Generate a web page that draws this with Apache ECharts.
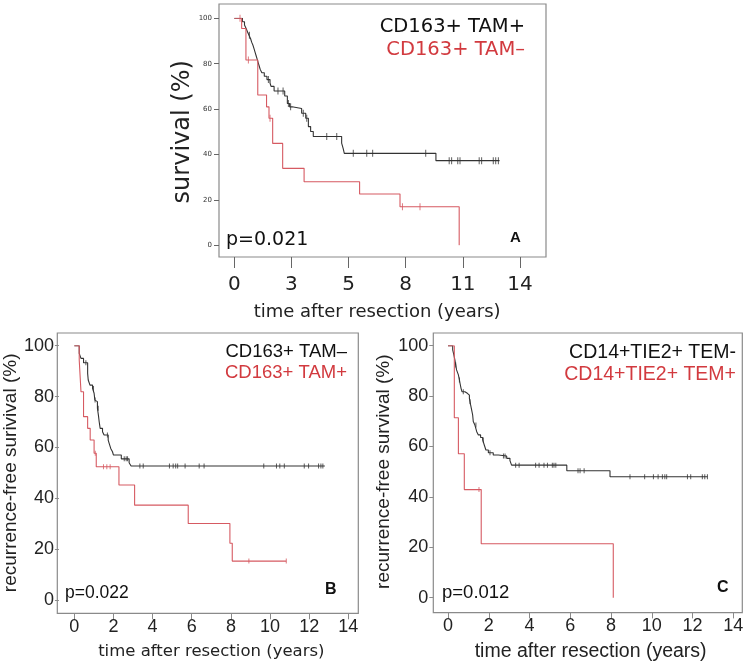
<!DOCTYPE html>
<html>
<head>
<meta charset="utf-8"/>
<script src="https://cdn.jsdelivr.net/npm/echarts@6/dist/echarts.min.js"></script>
<style>
  html, body { margin: 0; padding: 0; background: #fff; }
  #container { width: 748px; height: 668px; }
</style>
</head>
<body>
<div id="container"></div>
<script type="text/javascript">
    // ---- data: [years, survival %] ----
    // A: overall survival, CD163+ TAM+ (black) vs TAM- (red)
    var aPosSteps = [[0,100],[0.40,98.5],[0.50,97],[0.58,95.5],[0.65,94],[0.72,92.5],[0.80,91],[0.85,89.5],[0.92,88],[0.97,86.5],[1.02,85],[1.07,83.5],[1.12,82],[1.17,80.5],[1.22,79],[1.27,77.5],[1.35,76],[1.47,74.5],[1.60,73],[1.75,71.5],[1.80,70],[1.95,68],[2.47,65.8],[2.60,62.5],[2.71,61],[2.83,60.3],[3.30,58.2],[3.50,56],[3.63,52.3],[3.74,50.1],[3.87,47.9],[5.26,45],[5.34,42.5],[5.39,40.5],[9.88,37.3],[13.0,37.3]];
    var aPosCensor = [[0.74,92.5],[1.67,73],[2.14,68],[2.39,68],[2.65,62.5],[2.76,61],[3.38,58.2],[3.55,56],[4.53,47.9],[5.02,47.9],[5.83,40.5],[6.49,40.5],[6.78,40.5],[9.38,40.5],[10.53,37.3],[10.65,37.3],[10.95,37.3],[11.06,37.3],[12.0,37.3],[12.12,37.3],[12.69,37.3],[12.81,37.3],[12.94,37.3]];
    var aNegSteps = [[0,100],[0.36,95.5],[0.57,81.6],[1.15,66.2],[1.58,61],[1.70,56],[1.88,44.9],[2.37,33.9],[3.42,28],[6.14,22.6],[8.12,17],[11.02,0]];
    var aNegCensor = [[0.28,100],[0.69,81.6],[1.75,56],[8.24,17],[9.1,17]];
    var xTicksA = ['0', '3', '5', '8', '11', '14'];

    // B: recurrence-free survival, CD163+ TAM- (black) vs TAM+ (red)
    var bNegSteps = [[0,100],[0.25,97],[0.34,95],[0.47,93.3],[0.68,89.1],[0.71,86.5],[0.80,84.5],[0.93,83.2],[1.01,81.3],[1.05,78.6],[1.10,78],[1.18,75.4],[1.23,72.7],[1.27,70.1],[1.32,67.5],[1.44,66.2],[1.52,64.9],[1.73,62.9],[1.78,61.6],[1.86,59.6],[1.95,58.3],[2.0,57],[2.40,55.5],[2.80,54],[2.90,52.7],[12.8,52.7]];
    var bNegCensor = [[0.59,93.3],[0.98,83.2],[1.06,78.6],[1.22,75.4],[1.69,64.9],[2.55,55.5],[2.65,55.5],[2.72,55.5],[3.35,52.7],[3.52,52.7],[4.86,52.7],[5.05,52.7],[5.18,52.7],[5.28,52.7],[5.66,52.7],[6.38,52.7],[6.63,52.7],[9.68,52.7],[10.33,52.7],[10.5,52.7],[10.73,52.7],[11.75,52.7],[11.97,52.7],[12.48,52.7],[12.6,52.7],[12.7,52.7]];
    var bPosSteps = [[0,100],[0.25,94.4],[0.34,81.9],[0.47,72.1],[0.68,67.5],[0.81,62.9],[1.01,57.7],[1.12,52.4],[2.28,45.2],[3.08,37.3],[5.82,30.1],[7.95,22.3],[8.07,15.3],[10.83,15.3]];
    var bPosCensor = [[1.07,57.7],[1.49,52.4],[1.66,52.4],[1.83,52.4],[8.92,15.3],[10.83,15.3]];

    // C: recurrence-free survival, CD14+TIE2+ TEM- (black) vs TEM+ (red)
    var cNegSteps = [[0,100],[0.23,98.3],[0.29,96.3],[0.34,94.3],[0.38,92.3],[0.42,90.4],[0.51,88.4],[0.56,86.4],[0.59,85.1],[0.64,83.1],[0.69,81.7],[0.83,81.1],[0.95,80.4],[1.05,79.1],[1.08,77.8],[1.11,76.5],[1.16,74.5],[1.21,72.5],[1.24,69.9],[1.32,68.5],[1.41,65.9],[1.49,64.6],[1.60,63.6],[1.70,62.6],[1.78,60.6],[1.86,58.6],[1.98,57.5],[2.22,56.6],[2.47,56.2],[2.88,55.3],[3.04,54.4],[3.12,52.6],[5.83,50.4],[7.95,48.0],[12.73,48.0]];
    var cNegCensor = [[0.38,92.3],[0.56,86.4],[0.75,81.7],[1.08,77.8],[1.37,68.5],[1.73,62.6],[2.06,57.5],[2.72,56.2],[2.80,56.2],[3.32,52.6],[3.49,52.6],[4.30,52.6],[4.47,52.6],[4.71,52.6],[4.88,52.6],[5.12,52.6],[5.20,52.6],[5.29,52.6],[6.38,50.4],[6.48,50.4],[6.68,50.4],[8.93,48],[9.65,48],[10.08,48],[10.31,48],[10.52,48],[10.64,48],[10.73,48],[11.75,48],[11.91,48],[12.48,48],[12.6,48],[12.73,48]];
    var cPosSteps = [[0,100],[0.31,71.4],[0.51,57.1],[0.80,42.9],[1.63,21.4],[8.11,0]];
    var cPosCensor = [[1.52,42.9]];

    var BLACK = '#333333';
    var RED = '#d65a62';
    var RED_TXT = '#d23a3f';
    var FRAME = '#8a8a8a';
    var SANS = 'Liberation Sans';
    var VERA = 'DejaVu Sans';
    var NO_LINE = { show: false, onZero: false };

    function frameAxis(g) {
        return { gridIndex: g, type: 'value', min: 0, max: 1, show: false };
    }

    function km(name, data, color, g) {
        return {
            name: name, type: 'line', step: 'end', xAxisIndex: g, yAxisIndex: g,
            data: data, showSymbol: false, silent: true,
            lineStyle: { color: color, width: 1.1 }
        };
    }

    function censor(data, color, g, h) {
        return {
            type: 'scatter', xAxisIndex: g, yAxisIndex: g, data: data, silent: true,
            symbol: 'rect', symbolSize: [1, h], itemStyle: { color: color }, z: 3
        };
    }

    function label(text, opts) {
        var t = {
            text: text, padding: 0,
            textStyle: { fontSize: opts.size, fontFamily: opts.family, color: opts.color,
                fontWeight: opts.bold ? 'bold' : 'normal' },
            top: opts.cy - opts.size / 2
        };
        if (opts.right !== undefined) t.right = opts.right; else t.left = opts.left;
        return t;
    }

    var dom = document.getElementById('container');
    var myChart = echarts.init(dom);
    var option = {
        animation: false,
        backgroundColor: '#fff',
        title: [
            label('CD163+ TAM+', { right: 223, cy: 27, size: 19.5, family: VERA, color: '#111' }),
            label('CD163+ TAM\u2013', { right: 223, cy: 50, size: 19.5, family: VERA, color: RED_TXT }),
            label('p=0.021', { left: 226, cy: 240, size: 19, family: VERA, color: '#111' }),
            label('A', { left: 510, cy: 238, size: 15, family: SANS, color: '#111', bold: true }),

            label('CD163+ TAM\u2013', { right: 401, cy: 352, size: 18.5, family: SANS, color: '#111' }),
            label('CD163+ TAM+', { right: 401, cy: 373, size: 18.5, family: SANS, color: RED_TXT }),
            label('p=0.022', { left: 65, cy: 593, size: 17.5, family: SANS, color: '#111' }),
            label('B', { left: 325, cy: 590, size: 16, family: SANS, color: '#111', bold: true }),

            label('CD14+TIE2+ TEM-', { right: 12, cy: 352, size: 19.5, family: SANS, color: '#111' }),
            label('CD14+TIE2+ TEM+', { right: 12, cy: 374, size: 19.5, family: SANS, color: RED_TXT }),
            label('p=0.012', { left: 442, cy: 593, size: 18.5, family: SANS, color: '#111' }),
            label('C', { left: 717, cy: 588, size: 16, family: SANS, color: '#111', bold: true })
        ],
        grid: [
            // A: frame, then data area
            { left: 219, top: 4, width: 327, height: 253, show: true, borderColor: FRAME, borderWidth: 1.2 },
            { left: 234.3, top: 18.3, width: 285.7, height: 227 },
            // B
            { left: 57.3, top: 333, width: 301, height: 280.3, show: true, borderColor: FRAME, borderWidth: 1.2 },
            { left: 72.7, top: 345.7, width: 275.6, height: 254.3 },
            // C
            { left: 433.3, top: 333, width: 309, height: 279.7, show: true, borderColor: FRAME, borderWidth: 1.2 },
            { left: 448, top: 345.7, width: 285.3, height: 252 }
        ],
        xAxis: [
            frameAxis(0),
            {
                gridIndex: 1, type: 'value', min: 0, max: 14, interval: 2.8, offset: 11.7,
                axisLine: NO_LINE, splitLine: { show: false },
                axisTick: { show: true, length: 11, lineStyle: { color: '#666' } },
                axisLabel: { fontSize: 20, fontFamily: VERA, color: '#222', margin: 18,
                    formatter: function (v) { return xTicksA[Math.round(v / 2.8)]; } },
                name: 'time after resection (years)', nameLocation: 'middle', nameGap: 46,
                nameTextStyle: { fontSize: 18, fontFamily: VERA, color: '#222' }
            },
            frameAxis(2),
            {
                gridIndex: 3, type: 'value', min: 0, max: 14, interval: 2, offset: 13.3,
                axisLine: NO_LINE, splitLine: { show: false },
                axisTick: { show: true, length: 6, lineStyle: { color: FRAME } },
                axisLabel: { fontSize: 18, fontFamily: SANS, color: '#222', margin: 5 },
                name: 'time after resection (years)', nameLocation: 'middle', nameGap: 30,
                nameTextStyle: { fontSize: 16.5, fontFamily: VERA, color: '#222' }
            },
            frameAxis(4),
            {
                gridIndex: 5, type: 'value', min: 0, max: 14, interval: 2, offset: 14.7,
                axisLine: NO_LINE, splitLine: { show: false },
                axisTick: { show: true, length: 6, lineStyle: { color: FRAME } },
                axisLabel: { fontSize: 18, fontFamily: SANS, color: '#222', margin: 5 },
                name: 'time after resection (years)', nameLocation: 'middle', nameGap: 29,
                nameTextStyle: { fontSize: 19.5, fontFamily: SANS, color: '#222' }
            }
        ],
        yAxis: [
            frameAxis(0),
            {
                gridIndex: 1, type: 'value', min: 0, max: 100, interval: 20, offset: 15.3,
                axisLine: NO_LINE, splitLine: { show: false },
                axisTick: { show: true, length: 5, lineStyle: { color: '#666' } },
                axisLabel: { fontSize: 7, fontFamily: VERA, color: '#333', margin: 7 },
                name: 'survival (%)', nameLocation: 'middle', nameGap: 9,
                nameTextStyle: { fontSize: 24, fontFamily: VERA, color: '#222' }
            },
            frameAxis(2),
            {
                gridIndex: 3, type: 'value', min: 0, max: 100, interval: 20, offset: 15.4,
                axisLine: NO_LINE, splitLine: { show: false },
                axisTick: { show: true, length: 4, lineStyle: { color: FRAME } },
                axisLabel: { fontSize: 18, fontFamily: SANS, color: '#222', margin: 5 },
                name: 'recurrence-free surivival (%)', nameLocation: 'middle', nameGap: 38,
                nameTextStyle: { fontSize: 19, fontFamily: SANS, color: '#222' }
            },
            frameAxis(4),
            {
                gridIndex: 5, type: 'value', min: 0, max: 100, interval: 20, offset: 14.7,
                axisLine: NO_LINE, splitLine: { show: false },
                axisTick: { show: true, length: 4, lineStyle: { color: FRAME } },
                axisLabel: { fontSize: 18, fontFamily: SANS, color: '#222', margin: 5 },
                name: 'recurrence-free survival (%)', nameLocation: 'middle', nameGap: 40,
                nameTextStyle: { fontSize: 19, fontFamily: SANS, color: '#222' }
            }
        ],
        series: [
            km('CD163+ TAM+', aPosSteps, BLACK, 1),
            censor(aPosCensor, BLACK, 1, 7),
            km('CD163+ TAM-', aNegSteps, RED, 1),
            censor(aNegCensor, RED, 1, 7),

            km('CD163+ TAM-', bNegSteps, BLACK, 3),
            censor(bNegCensor, BLACK, 3, 5),
            km('CD163+ TAM+', bPosSteps, RED, 3),
            censor(bPosCensor, RED, 3, 5),

            km('CD14+TIE2+ TEM-', cNegSteps, BLACK, 5),
            censor(cNegCensor, BLACK, 5, 5),
            km('CD14+TIE2+ TEM+', cPosSteps, RED, 5),
            censor(cPosCensor, RED, 5, 5)
        ]
    };

    if (option && typeof option === 'object') {
        myChart.setOption(option, true);
    }
</script>
</body>
</html>
